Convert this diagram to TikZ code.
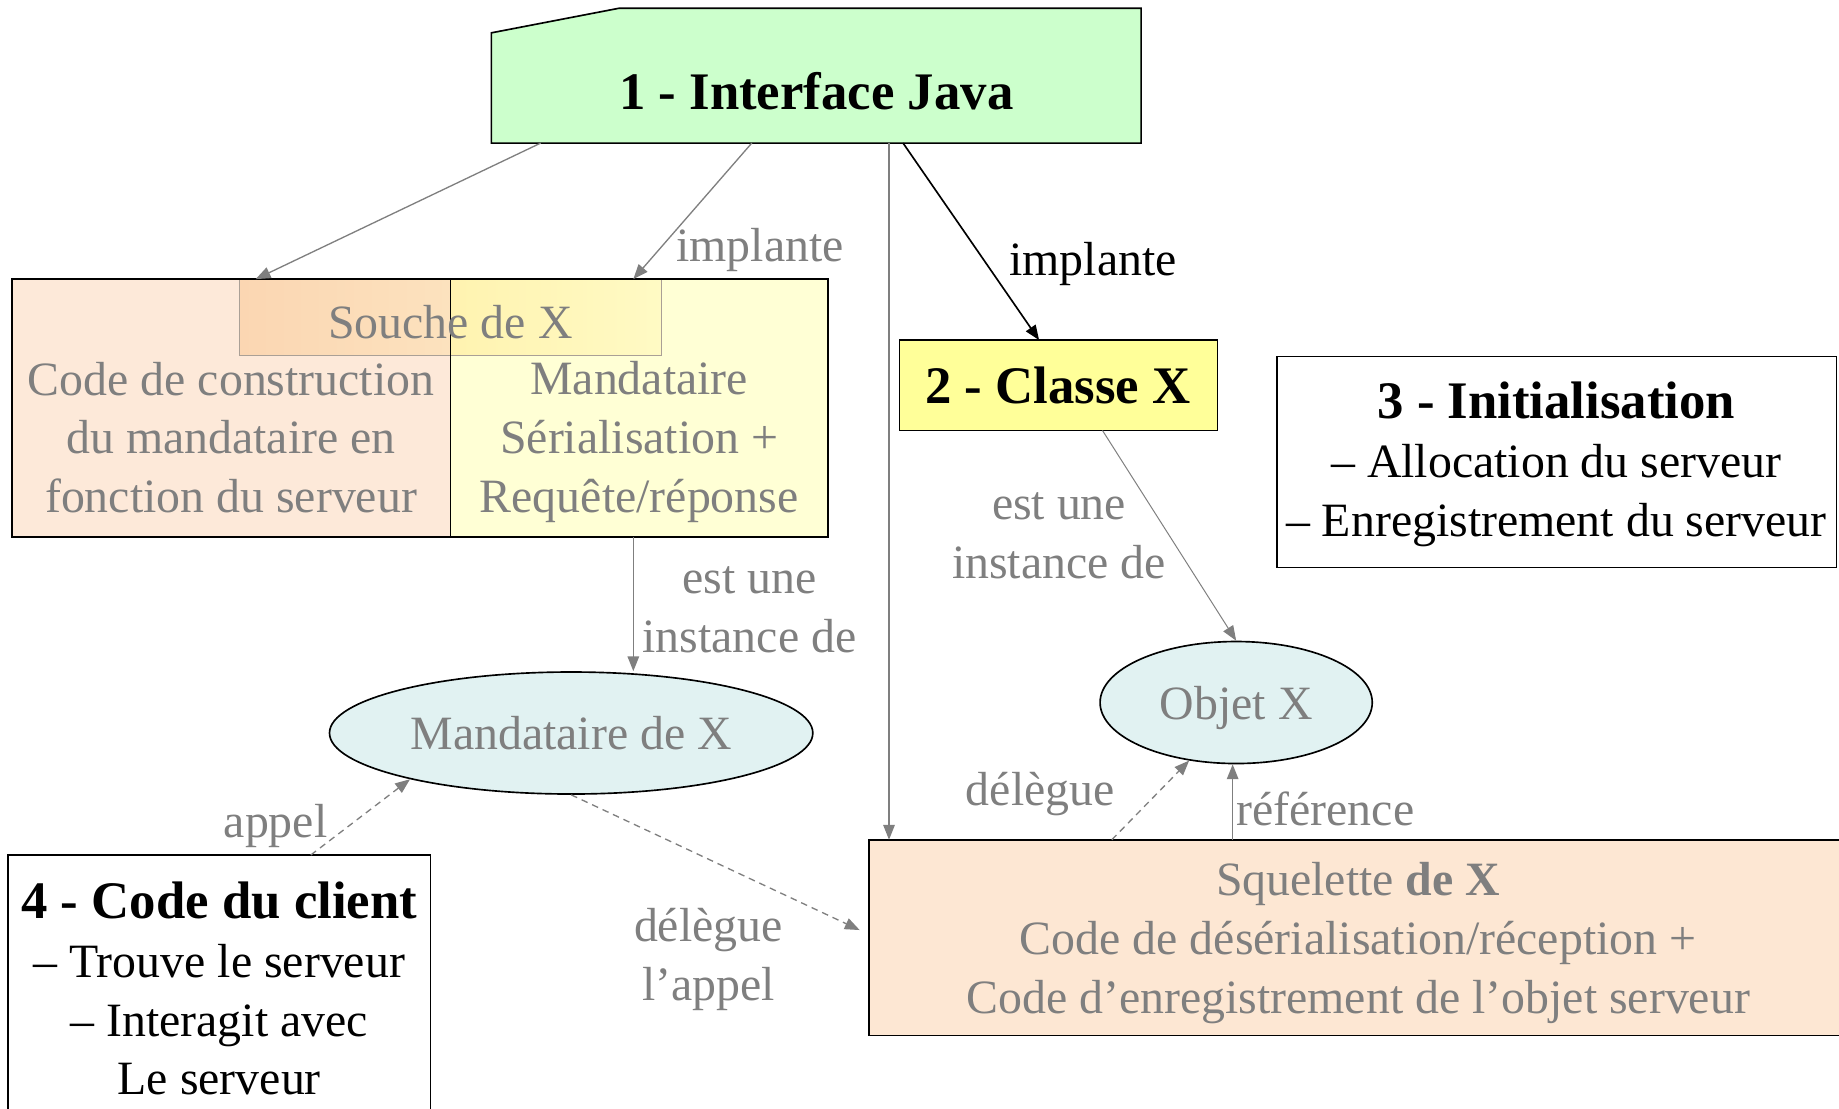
\documentclass[tikz,border=0pt]{standalone}
\usepackage{fontspec}
\setmainfont{Liberation Serif}
\usetikzlibrary{arrows.meta,shapes.geometric,fit,calc}
\definecolor{ggray}{HTML}{7F7F7F}
\definecolor{javagreen}{HTML}{CCFFCC}
\definecolor{classyellow}{HTML}{FFFF99}
\definecolor{peach}{HTML}{FDE9D9}
\definecolor{paleyellow}{HTML}{FFFFD5}
\definecolor{ellfill}{HTML}{E1F2F2}
\definecolor{skpeach}{HTML}{FDE7D3}
\begin{document}
\begin{tikzpicture}[x=0.025cm,y=-0.025cm,
  shapebox/.style={inner sep=0pt, outer sep=0pt},
  border/.style={draw=black, line width=1pt},
  lbl/.style={text=ggray, font=\fontsize{29}{35.6}\selectfont, align=center, inner sep=0pt},
  blk/.style={text=black, font=\fontsize{29}{35.6}\selectfont, align=center, inner sep=0pt},
  ttl/.style={text=black, font=\fontsize{32}{38}\selectfont\bfseries, align=center, inner sep=0pt},
  ell/.style={ellipse, draw=black, line width=1pt, fill=ellfill, inner sep=0pt},
  garrow/.style={draw=ggray, line width=0.8pt, -{Triangle[length=9pt,width=7pt]}},
  barrow/.style={draw=black, line width=1pt, -{Triangle[length=9pt,width=7pt]}},
  darrow/.style={garrow, dash pattern=on 4pt off 3pt}]
\path[use as bounding box] (0,0) rectangle (1568,945);
\clip (0,0) rectangle (1568,945);

% ---- shapes ----
\node[shapebox, fit={(419,7) (973,122)}] (iface) {};
\fill[javagreen] (iface.south west) -- ($(iface.north west)+(0,21)$) -- ($(iface.north west)+(109,0)$) -- (iface.north east) -- (iface.south east) -- cycle;
\draw[border] (iface.south west) -- ($(iface.north west)+(0,21)$) -- ($(iface.north west)+(109,0)$) -- (iface.north east) -- (iface.south east) -- cycle;

\node[shapebox, fit={(10,238) (384,458)}, fill=peach] (souL) {};
\node[shapebox, fit={(384,238) (706,458)}, fill=paleyellow] (souR) {};
\node[shapebox, fit={(204,238) (564,303)}] (souche) {};
\shade[left color={rgb,255:red,251;green,214;blue,178}, right color={rgb,255:red,252;green,226;blue,190}] (souche.north west) rectangle (souche.south -| souL.east);
\shade[left color={rgb,255:red,255;green,243;blue,176}, right color={rgb,255:red,255;green,250;blue,196}] (souche.north -| souR.west) rectangle (souche.south east);
\draw[draw={rgb,255:red,170;green,160;blue,150}, line width=0.5pt] (souche.north west) rectangle (souche.south east);
\draw[border] (souL.north west) rectangle (souR.south east);
\draw[border] (souL.north east) -- (souL.south east);

\node[shapebox, border, fill=classyellow, fit={(767,290) (1038,367)}] (classe) {};
\node[shapebox, border, fill=white, fit={(1089,304) (1566,484)}] (init) {};
\node[shapebox, border, fill=white, fit={(7,729) (367,980)}] (client) {};
\node[shapebox, border, fill=skpeach, fit={(741,716) (1620,883)}] (sq) {};

\node[ell, minimum width=10.3cm, minimum height=2.6cm, text=ggray, font=\fontsize{29}{35.6}\selectfont] (mand) at (487,625) {Mandataire de X};
\node[ell, minimum width=5.8cm, minimum height=2.6cm, text=ggray, text depth=0pt, font=\fontsize{29}{35.6}\selectfont] (objet) at (1054,599) {Objet X};

% ---- texts ----
\node[ttl] (ifacet) at (696,78) {1 - Interface Java};
\node[lbl] (souchet) at (384,275) {Souche de X};
\node[lbl] (soult) at (197,373) {Code de construction\\du mandataire en\\fonction du serveur};
\node[lbl] (sourt) at (545,377) {Mandataire\\Sérialisation +\\Requête/réponse};
\node[ttl] (classet) at (902,329) {2 - Classe X};
\node[blk] (initt) at (1327,396) {{\fontsize{32}{38}\selectfont\bfseries 3 - Initialisation}\\– Allocation du serveur\\– Enregistrement du serveur};
\node[blk] (clientt) at (187,843) {{\fontsize{32}{38}\selectfont\bfseries 4 - Code du client}\\– Trouve le serveur\\– Interagit avec\\Le serveur};
\node[lbl] (sqt) at (1158,804) {Squelette \textbf{de X}\\Code de désérialisation/réception +\\Code d’enregistrement de l’objet serveur};

% ---- connector labels ----
\node[lbl] (limpl1) at (648,213) {implante};
\node[blk] (limpl2) at (932,225) {implante};
\node[lbl] (linst1) at (639,520) {est une\\instance de};
\node[lbl] (linst2) at (903,457) {est une\\instance de};
\node[lbl] (lappel) at (235,704) {appel};
\node[lbl] (ldeleg1) at (604,818) {délègue\\l’appel};
\node[lbl] (ldeleg2) at (887,677) {délègue};
\node[lbl] (lref) at (1130,690) {référence};

% ---- connectors ----
\draw[garrow] ($(iface.south west)+(42,0)$) -- ($(souche.north west)+(14,0)$);
\draw[garrow] ($(iface.south west)+(222,0)$) -- ($(souR.north west)+(156,0)$);
\draw[garrow] ($(iface.south west)+(339,0)$) coordinate (v1) -- (v1 |- sq.north);
\draw[barrow] ($(iface.south west)+(351,0)$) -- ($(classe.north west)+(119,0)$);
\draw[garrow, line width=0.6pt] ($(classe.south west)+(173,0)$) -- (objet.north);
\draw[garrow] ($(souR.south west)+(156,0)$) coordinate (v2) -- (v2 |- mand.north);
\draw[darrow] ($(client.north west)+(258,0)$) -- (mand.196);
\draw[darrow] (mand.south) -- ($(sq.north west)+(-8,77)$);
\draw[darrow] ($(sq.north west)+(207,0)$) -- (objet.231);
\draw[garrow] ($(sq.north west)+(310,0)$) coordinate (r1) -- (r1 |- objet.south);
\end{tikzpicture}
\end{document}
